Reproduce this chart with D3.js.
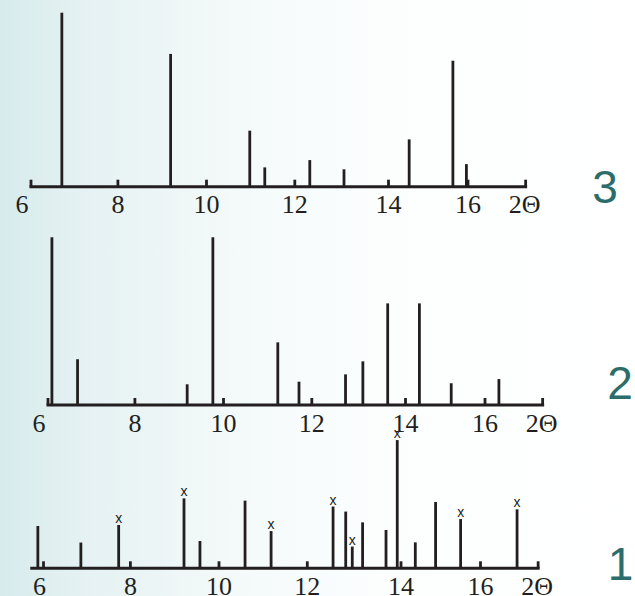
<!DOCTYPE html>
<html>
<head>
<meta charset="utf-8">
<script src="https://cdn.jsdelivr.net/npm/d3@7"></script>
<style>
  html, body { margin: 0; padding: 0; overflow: hidden; background: #fff; }
  svg { display: block; }
</style>
</head>
<body>
<script>
// 2θ tick values shared by the three diffractograms
const tickValues = [6, 8, 10, 12, 14, 16];
const axisEnd = 17.45;

// Pattern 3: peak positions (2θ, deg) and relative intensities
const pos3 = [6.71, 9.19, 10.98, 11.32, 12.32, 13.05, 14.52, 15.62, 15.96];
const int3 = [100, 76.3, 32.2, 11.1, 15.3, 10, 27.2, 72.4, 13.0];

// Pattern 2
const pos2 = [6.09, 6.68, 9.18, 9.76, 11.23, 11.71, 12.72, 13.09, 13.62, 14.35, 15.15, 16.35];
const int2 = [96.4, 26.3, 11.9, 96.4, 36, 13.4, 17.6, 25.1, 58.4, 58.4, 12.5, 14.9];

// Pattern 1, reflections flagged with "x" listed separately
const pos1 = [5.87, 6.86, 7.73, 9.21, 9.57, 10.59, 11.18, 12.55, 12.82, 12.96, 13.18, 13.68, 13.92, 14.36, 14.87, 15.50, 16.92];
const int1 = [24.3, 14.8, 24.9, 40.2, 15.7, 38.9, 21.4, 35.5, 32.6, 12.5, 26.4, 22, 73.7, 14.9, 38.1, 28.3, 33.9];
const marked1 = [7.73, 9.21, 11.18, 12.55, 12.96, 13.92, 15.50, 16.92];

const panelLabels = ["3", "2", "1"];
const markerSymbol = "x";
const axisTitle = "2\u0398";

// ---------------------------------------------------------------
const W = 635, H = 596;
const ink = "#231f20";
const teal = "#2c6c6a";
const serif = "Liberation Serif";
const sans = "Liberation Sans";

const svg = d3.select("body").append("svg")
  .attr("width", W).attr("height", H);

// soft cyan wash fading to white towards the right
const defs = svg.append("defs");
const grad = defs.append("linearGradient").attr("id", "bg")
  .attr("x1", 0).attr("y1", 0).attr("x2", 1).attr("y2", 0);
grad.append("stop").attr("offset", "0%").attr("stop-color", "#d7ebec");
grad.append("stop").attr("offset", "12%").attr("stop-color", "#e4f1f2");
grad.append("stop").attr("offset", "35%").attr("stop-color", "#f3f9f9");
grad.append("stop").attr("offset", "60%").attr("stop-color", "#fcfefe");
grad.append("stop").attr("offset", "100%").attr("stop-color", "#ffffff");
svg.append("rect").attr("width", W).attr("height", H).attr("fill", "url(#bg)");

// the drawn 2θ axis is slightly uneven between ticks; a piecewise scale follows it
const tickPx = [43.5, 130.4, 219, 307.3, 401, 480.5];

const panels = [
  { pos: pos3, int: int3, marked: [], label: panelLabels[0], dx: -12.5, base: 186.7, start: 6,
    firstLabelShift: -9, numX: 605, numY: 203 },
  { pos: pos2, int: int2, marked: [], label: panelLabels[1], dx: 4.5, base: 405, start: 6,
    firstLabelShift: -9, numX: 620, numY: 399 },
  { pos: pos1, int: int1, marked: marked1, label: panelLabels[2], dx: 0, base: 568.3, start: 5.73,
    firstLabelShift: -4, numX: 620.5, numY: 580 }
];

panels.forEach(p => {
  const x = d3.scaleLinear()
    .domain(tickValues)
    .range(tickPx.map(v => v + p.dx));
  const y = d3.scaleLinear().domain([0, 100]).range([p.base, p.base - 174]);

  const g = svg.append("g");

  // peaks
  g.selectAll("line.peak")
    .data(p.pos.map((v, i) => ({ t: v, I: p.int[i] })))
    .join("line")
    .attr("class", "peak")
    .attr("x1", d => x(d.t)).attr("x2", d => x(d.t))
    .attr("y1", p.base).attr("y2", d => y(d.I))
    .attr("stroke", ink).attr("stroke-width", 2.8);

  // markers above flagged reflections
  g.selectAll("text.mark")
    .data(p.marked.map(t => ({ t, I: p.int[p.pos.indexOf(t)] })))
    .join("text")
    .attr("class", "mark")
    .attr("x", d => x(d.t))
    .attr("y", d => y(d.I) - 2)
    .attr("text-anchor", "middle")
    .attr("font-family", sans)
    .attr("font-size", 14)
    .attr("fill", ink)
    .text(markerSymbol);

  // axis baseline with upward tick stubs
  g.append("line")
    .attr("x1", x(p.start) - 1.5).attr("x2", x(axisEnd) + 1.5)
    .attr("y1", p.base).attr("y2", p.base)
    .attr("stroke", ink).attr("stroke-width", 3);

  g.selectAll("line.tick")
    .data(tickValues.concat([axisEnd]))
    .join("line")
    .attr("class", "tick")
    .attr("x1", d => x(d)).attr("x2", d => x(d))
    .attr("y1", p.base).attr("y2", p.base - 7)
    .attr("stroke", ink).attr("stroke-width", 2.8);

  // tick labels
  g.selectAll("text.tl")
    .data(tickValues)
    .join("text")
    .attr("class", "tl")
    .attr("x", (d, i) => x(d) + (i === 0 ? p.firstLabelShift : 0))
    .attr("y", p.base + 26.5)
    .attr("text-anchor", "middle")
    .attr("font-family", serif)
    .attr("font-size", 26)
    .attr("fill", ink)
    .text(d => d);

  g.append("text")
    .attr("x", x(axisEnd) - 1)
    .attr("y", p.base + 26.5)
    .attr("text-anchor", "middle")
    .attr("font-family", serif)
    .attr("font-size", 26)
    .attr("fill", ink)
    .text(axisTitle);

  // pattern number
  g.append("text")
    .attr("x", p.numX).attr("y", p.numY)
    .attr("text-anchor", "middle")
    .attr("font-family", sans)
    .attr("font-size", 46)
    .attr("fill", teal)
    .text(p.label);
});
</script>
</body>
</html>
